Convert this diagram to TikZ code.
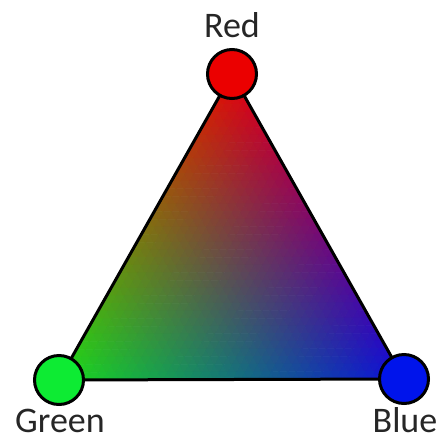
\documentclass[tikz,border=0pt]{standalone}
\usepackage{fontspec}
\setmainfont{Carlito}
\definecolor{cred}{rgb}{0.92,0.0,0.0}
\definecolor{cgreen}{rgb}{0.05,0.92,0.2}
\definecolor{cblue}{rgb}{0.0,0.08,0.92}
\begin{document}
\begin{tikzpicture}[x=1pt,y=-1pt,
  vertex/.style={circle,draw=black,line width=3pt,minimum size=49pt,inner sep=0pt},
  lbl/.style={font=\fontsize{36}{38}\selectfont,text=black!85,anchor=base,inner sep=0pt},
  edge/.style={draw=black,line width=3pt,line join=round}]
\useasboundingbox (0,0) rectangle (442,440);
\def\Ax{232}\def\Ay{74}
\def\ux{-4.325}\def\uy{7.65}   % (B-A)/40, B=(59,380)
\def\vx{4.3}\def\vy{7.625}     % (C-A)/40, C=(404,379)
% upward patches
\foreach \i in {0,...,39}{
  \pgfmathtruncatemacro\jmax{39-\i}
  \foreach \j in {0,...,\jmax}{
    \pgfmathsetmacro\lb{(\i+1/3)/40}
    \pgfmathsetmacro\lc{(\j+1/3)/40}
    \pgfmathsetmacro\la{1-\lb-\lc}
    \pgfmathsetmacro\myR{\la*0.9+\lb*0.1+\lc*0.05}
    \pgfmathsetmacro\myG{\la*0.02+\lb*0.86+\lc*0.05}
    \pgfmathsetmacro\myB{\la*0.03+\lb*0.1+\lc*0.86}
    \definecolor{tc}{rgb}{\myR,\myG,\myB}
    \fill[tc,draw=tc,line width=0.7pt]
      ({\Ax+\i*\ux+\j*\vx},{\Ay+\i*\uy+\j*\vy}) --
      ({\Ax+(\i+1)*\ux+\j*\vx},{\Ay+(\i+1)*\uy+\j*\vy}) --
      ({\Ax+\i*\ux+(\j+1)*\vx},{\Ay+\i*\uy+(\j+1)*\vy}) -- cycle;
  }
}
% downward patches
\foreach \i in {0,...,38}{
  \pgfmathtruncatemacro\jmax{38-\i}
  \foreach \j in {0,...,\jmax}{
    \pgfmathsetmacro\lb{(\i+2/3)/40}
    \pgfmathsetmacro\lc{(\j+2/3)/40}
    \pgfmathsetmacro\la{1-\lb-\lc}
    \pgfmathsetmacro\myR{\la*0.9+\lb*0.1+\lc*0.05}
    \pgfmathsetmacro\myG{\la*0.02+\lb*0.86+\lc*0.05}
    \pgfmathsetmacro\myB{\la*0.03+\lb*0.1+\lc*0.86}
    \definecolor{tc}{rgb}{\myR,\myG,\myB}
    \fill[tc,draw=tc,line width=0.7pt]
      ({\Ax+(\i+1)*\ux+\j*\vx},{\Ay+(\i+1)*\uy+\j*\vy}) --
      ({\Ax+\i*\ux+(\j+1)*\vx},{\Ay+\i*\uy+(\j+1)*\vy}) --
      ({\Ax+(\i+1)*\ux+(\j+1)*\vx},{\Ay+(\i+1)*\uy+(\j+1)*\vy}) -- cycle;
  }
}
\node[vertex,draw=none] (r) at (232,74) {};
\node[vertex,draw=none] (g) at (59,380) {};
\node[vertex,draw=none] (b) at (404,379) {};
\draw[edge] (r.center) -- (g.center) -- (b.center) -- cycle;
\node[vertex,fill=cred] at (r.center) {};
\node[vertex,fill=cgreen] at (g.center) {};
\node[vertex,fill=cblue] at (b.center) {};
\node[lbl] (rl) at (232,37) {Red};
\node[lbl] (gl) at (60,432) {Green};
\node[lbl] (bl) at (405,432) {Blue};
\end{tikzpicture}
\end{document}
